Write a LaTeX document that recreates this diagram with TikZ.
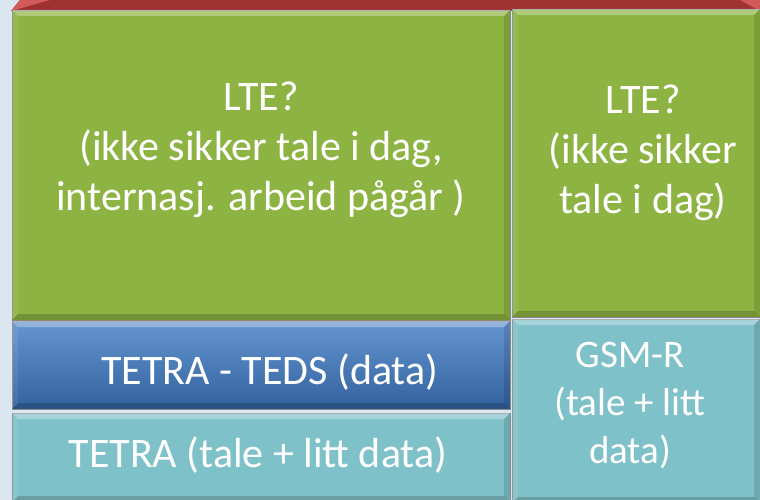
\documentclass[tikz,border=0pt]{standalone}
\usepackage{fontspec}
\setmainfont{Carlito}
\usetikzlibrary{positioning}

\definecolor{pageblue}{HTML}{DCE6F1}
\definecolor{topred}{HTML}{9E3232}
\definecolor{lightred}{HTML}{D25A5A}
\definecolor{ltegreen}{HTML}{8DB443}
\definecolor{tedsblue}{HTML}{3F7BC6}
\definecolor{tetracyan}{HTML}{7FC1C9}

% bevelled edges of a layer box
\newcommand{\bevel}[1]{%
  \fill[white,opacity=.3] (#1.north west) -- (#1.north east) -- ([shift={(-6,6)}]#1.north east) -- ([shift={(6,6)}]#1.north west) -- cycle;
  \fill[white,opacity=.08] (#1.north west) -- ([shift={(6,6)}]#1.north west) -- ([shift={(6,-6)}]#1.south west) -- (#1.south west) -- cycle;
  \fill[black,opacity=.12] (#1.north east) -- ([shift={(-6,6)}]#1.north east) -- ([shift={(-6,-6)}]#1.south east) -- (#1.south east) -- cycle;
  \fill[black,opacity=.18] (#1.south west) -- (#1.south east) -- ([shift={(-6,-6)}]#1.south east) -- ([shift={(6,-6)}]#1.south west) -- cycle;
}

\begin{document}
\begin{tikzpicture}[x=1pt,y=-1pt,node distance=2pt,
  layer/.style={draw=black!45,line width=.8pt,inner sep=0pt,outer sep=0pt,minimum width=498pt},
  txt/.style={text=white,align=center,font=\fontsize{42}{50}\selectfont},
  smalltxt/.style={text=white,align=center,font=\fontsize{39}{48}\selectfont}]
\useasboundingbox (0,0) rectangle (760,500);
\fill[pageblue] (0,0) rectangle (760,500);
% red band on top
\fill[topred] (11,11) -- (20,0) -- (760,0) -- (760,11) -- cycle;
\fill[lightred] (11,11) -- (20,0) -- (50,0) -- cycle;
\fill[lightred] (760,11) -- (740,0) -- (760,0) -- cycle;

\node[layer,fill=ltegreen,minimum height=310pt] (lteA) at (261,165) {};
\node[layer,fill=ltegreen,minimum width=248pt,minimum height=308pt,right=2pt of lteA,yshift=2pt] (lteB) {};
\node[layer,top color=tedsblue!80!white,bottom color=tedsblue!80!black,minimum height=88pt,below=1pt of lteA] (teds) {};
\node[layer,fill=tetracyan,minimum height=89pt,below=4pt of teds] (tetra) {};
\node[layer,fill=tetracyan,minimum width=248pt,minimum height=184pt,below=2pt of lteB] (gsmr) {};
\foreach \n in {lteA,lteB,teds,tetra,gsmr} {\bevel{\n}}

\node[txt] (lteAtxt) at ([yshift=15pt]lteA.center) {LTE?\\(ikke sikker tale i dag,\\internasj. arbeid pågår )};
\node[txt] (lteBtxt) at ([xshift=7pt,yshift=10pt]lteB.center) {LTE?\\(ikke sikker\\tale i dag)};
\node[txt] (tedstxt) at ([xshift=9pt,yshift=-7pt]teds.center) {TETRA - TEDS (data)};
\node[txt] (tetratxt) at ([xshift=-3pt,yshift=2pt]tetra.center) {TETRA (tale + litt data)};
\node[smalltxt] (gsmrtxt) at ([xshift=-6pt,yshift=5pt]gsmr.center) {GSM-R\\(tale + litt\\data)};
\end{tikzpicture}
\end{document}
